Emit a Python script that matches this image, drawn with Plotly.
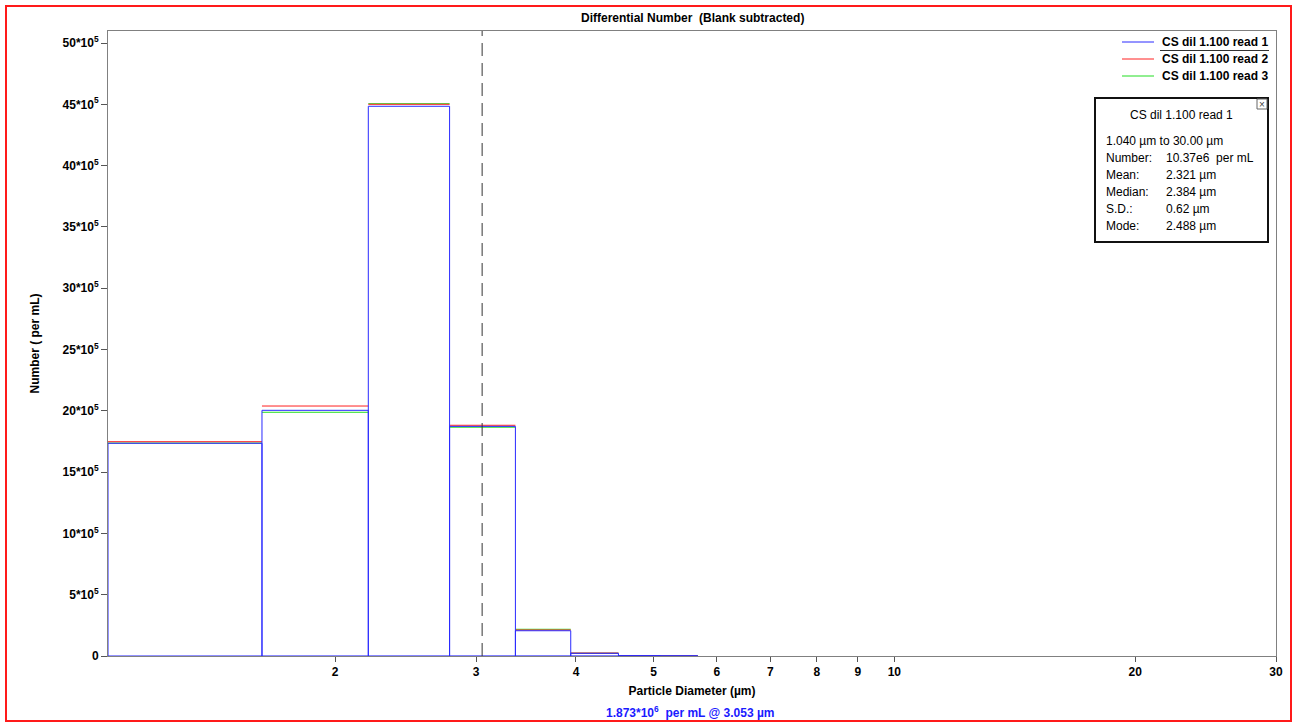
import numpy as np
import plotly.graph_objects as go

# ---------------- data ----------------
bin_edges = [1.04, 1.62, 2.20, 2.78, 3.36, 3.94, 4.52, 5.10, 5.68]
series_names = ["CS dil 1.100 read 1", "CS dil 1.100 read 2", "CS dil 1.100 read 3"]
read1 = [1.735e6, 2.004e6, 4.484e6, 1.873e6, 0.206e6, 0.022e6, 0.003e6, 0.001e6]
read2 = [1.748e6, 2.039e6, 4.500e6, 1.882e6, 0.212e6, 0.024e6, 0.003e6, 0.001e6]
read3 = [1.737e6, 1.988e6, 4.505e6, 1.866e6, 0.218e6, 0.023e6, 0.003e6, 0.001e6]
series_colors = ["#2a2aff", "#ff2020", "#22dd22"]

x_tick_vals = [2, 3, 4, 5, 6, 7, 8, 9, 10, 20, 30]
y_tick_vals = [0, 5e5, 10e5, 15e5, 20e5, 25e5, 30e5, 35e5, 40e5, 45e5, 50e5]
y_tick_text = ["0"] + [f"{int(v/1e5)}*10<sup>5</sup>" for v in y_tick_vals[1:]]

cursor_x = 3.053
cursor_y = 1.873e6

stats_title = "CS dil 1.100 read 1"
stats_range = "1.040 µm to 30.00 µm"
stats_labels = ["Number:", "Mean:", "Median:", "S.D.:", "Mode:"]
stats_values = ["10.37e6  per mL", "2.321 µm", "2.384 µm", "0.62 µm", "2.488 µm"]

x_min, x_max = 1.04, 30.0
y_max = 5.098e6

FONT = "Liberation Sans, Arial, sans-serif"

# ---------------- figure ----------------
W, H = 1302, 724
ml, mr, mt, mb = 108, 26, 31, 68
pw, ph = W - ml - mr, H - mt - mb


def px_x(p):
    return (p - ml) / pw


def px_y(q):
    return (H - mb - q) / ph


def outline(edges, vals):
    # full bar outlines with baseline
    xs, ys = [edges[0]], [0]
    for i, v in enumerate(vals):
        xs += [edges[i], edges[i + 1], edges[i + 1]]
        ys += [v, v, 0]
    xs.append(edges[0])
    ys.append(0)
    return xs, ys


def tops(edges, vals):
    # only the bar tops
    xs, ys = [], []
    for i, v in enumerate(vals):
        xs += [edges[i], edges[i + 1], None]
        ys += [v, v, None]
    return xs, ys


fig = go.Figure()
all_series = [read1, read2, read3]
for idx in [2, 1, 0]:
    if idx == 0:
        xs, ys = outline(bin_edges, all_series[idx])
    else:
        xs, ys = tops(bin_edges, all_series[idx])
    fig.add_trace(go.Scatter(
        x=xs, y=ys, mode="lines", name=series_names[idx],
        line=dict(color=series_colors[idx], width=1),
        showlegend=False, cliponaxis=False, hoverinfo="skip",
    ))

# cursor line
fig.add_shape(type="line", xref="x", yref="paper", x0=cursor_x, x1=cursor_x, y0=0, y1=1,
              line=dict(color="#333333", width=1, dash="13px,7px"))

# red outer border
fig.add_shape(type="rect", xref="paper", yref="paper",
              x0=px_x(6), x1=px_x(1291), y0=px_y(721), y1=px_y(6),
              line=dict(color="#ff1a1a", width=2), fillcolor="rgba(0,0,0,0)", layer="above")

# legend (drawn manually for exact spacing)
for i, (name, col) in enumerate(zip(series_names, series_colors)):
    yy = px_y(42 + 17 * i)
    fig.add_shape(type="line", xref="paper", yref="paper",
                  x0=px_x(1122), x1=px_x(1154), y0=yy, y1=yy,
                  line=dict(color=col, width=1), layer="above")
    fig.add_annotation(xref="paper", yref="paper", x=px_x(1270), y=yy, text=name,
                       showarrow=False, xanchor="right", yanchor="middle",
                       font=dict(family=FONT, size=12, color="black", weight="bold"))
# legend selection underline
fig.add_shape(type="line", xref="paper", yref="paper",
              x0=px_x(1160), x1=px_x(1269), y0=px_y(50.5), y1=px_y(50.5),
              line=dict(color="#333333", width=1))

# stats box
fig.add_shape(type="rect", xref="paper", yref="paper",
              x0=px_x(1095), x1=px_x(1268), y0=px_y(242), y1=px_y(98),
              line=dict(color="#111111", width=2), fillcolor="white", layer="above")
fig.add_shape(type="rect", xref="paper", yref="paper",
              x0=px_x(1257), x1=px_x(1267), y0=px_y(109), y1=px_y(99),
              line=dict(color="#666666", width=1), fillcolor="white", layer="above")
fig.add_annotation(xref="paper", yref="paper", x=px_x(1262), y=px_y(104), text="×",
                   showarrow=False, font=dict(family=FONT, size=10, color="#444444"),
                   xanchor="center", yanchor="middle")

fig.add_annotation(xref="paper", yref="paper", x=px_x(1181), y=px_y(115), text=stats_title,
                   showarrow=False, font=dict(family=FONT, size=12, color="black"),
                   xanchor="center", yanchor="middle")
fig.add_annotation(xref="paper", yref="paper", x=px_x(1104), y=px_y(141), text=stats_range,
                   showarrow=False, font=dict(family=FONT, size=12, color="black"),
                   xanchor="left", yanchor="middle")
for i, (lab, val) in enumerate(zip(stats_labels, stats_values)):
    yy = px_y(158 + 17 * i)
    fig.add_annotation(xref="paper", yref="paper", x=px_x(1104), y=yy, text=lab,
                       showarrow=False, font=dict(family=FONT, size=12, color="black"),
                       xanchor="left", yanchor="middle")
    fig.add_annotation(xref="paper", yref="paper", x=px_x(1164), y=yy, text=val,
                       showarrow=False, font=dict(family=FONT, size=12, color="black"),
                       xanchor="left", yanchor="middle")

# title
fig.add_annotation(xref="paper", yref="paper", x=0.5, y=px_y(18),
                   text="Differential Number  (Blank subtracted)", showarrow=False,
                   font=dict(family=FONT, size=12, color="black", weight="bold"),
                   xanchor="center", yanchor="middle")

# cursor readout
fig.add_annotation(xref="paper", yref="paper", x=px_x(690), y=px_y(712),
                   text=f"{cursor_y/1e6:.3f}*10<sup>6</sup>  per mL @ {cursor_x:.3f} µm",
                   showarrow=False,
                   font=dict(family=FONT, size=12, color="#1a1aff", weight="bold"),
                   xanchor="center", yanchor="middle")

fig.update_layout(
    width=W, height=H,
    margin=dict(l=ml, r=mr, t=mt, b=mb, pad=0),
    paper_bgcolor="white", plot_bgcolor="white",
    font=dict(family=FONT, size=12, color="black"),
    showlegend=False,
    xaxis=dict(type="log", range=[np.log10(x_min), np.log10(x_max)],
               tickvals=x_tick_vals, ticktext=[str(v) for v in x_tick_vals],
               ticks="outside", ticklen=5, tickcolor="#555555",
               showgrid=False, zeroline=False,
               showline=True, mirror=True, linecolor="#808080", linewidth=1,
               tickfont=dict(family=FONT, size=12, color="black", weight="bold"),
               title=dict(text="Particle Diameter (µm)", standoff=8,
                          font=dict(family=FONT, size=12, color="black", weight="bold"))),
    yaxis=dict(range=[0, y_max], tickvals=y_tick_vals, ticktext=y_tick_text,
               ticks="outside", ticklen=6, tickcolor="#555555",
               showgrid=False, zeroline=False,
               showline=True, mirror=True, linecolor="#808080", linewidth=1,
               tickfont=dict(family=FONT, size=12, color="black", weight="bold"),
               title=dict(text="Number ( per mL)", standoff=20,
                          font=dict(family=FONT, size=12, color="black", weight="bold"))),
)

fig.write_html("out.html", config={"displayModeBar": False},
               post_script="document.body.style.margin='0px';document.body.style.padding='0px';")
